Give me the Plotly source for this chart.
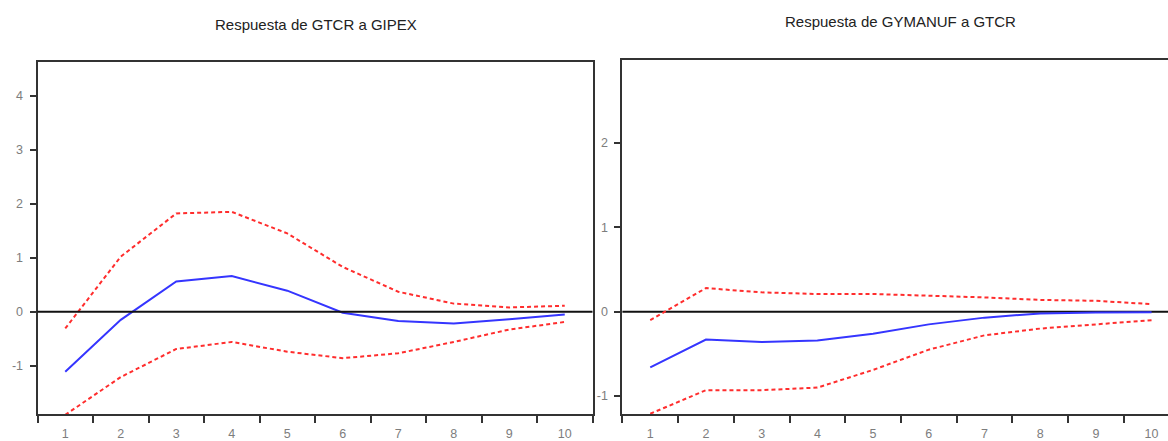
import plotly.graph_objects as go

periods = [1, 2, 3, 4, 5, 6, 7, 8, 9, 10]

# Respuesta de GTCR a GIPEX
gtcr_resp = [-1.11, -0.15, 0.56, 0.66, 0.39, -0.02, -0.17, -0.22, -0.14, -0.05]
gtcr_upper = [-0.31, 1.02, 1.82, 1.85, 1.45, 0.83, 0.37, 0.15, 0.08, 0.11]
gtcr_lower = [-1.91, -1.21, -0.69, -0.56, -0.74, -0.86, -0.77, -0.56, -0.33, -0.19]

# Respuesta de GYMANUF a GTCR
gym_resp = [-0.66, -0.33, -0.36, -0.34, -0.26, -0.15, -0.07, -0.02, -0.01, -0.005]
gym_upper = [-0.10, 0.28, 0.23, 0.21, 0.21, 0.19, 0.17, 0.14, 0.13, 0.09]
gym_lower = [-1.21, -0.93, -0.93, -0.90, -0.69, -0.45, -0.28, -0.20, -0.15, -0.10]

left_yticks = [-1, 0, 1, 2, 3, 4]
right_yticks = [-1, 0, 1, 2]
titles = ["Respuesta de GTCR a GIPEX", "Respuesta de GYMANUF a GTCR"]

W, H = 1168, 441
BLUE = "#3535ff"
RED = "#ff2d2d"
AX = "#333333"
FONT = "Liberation Sans, Arial, sans-serif"
TICKCOL = "#7d7d7d"

fig = go.Figure()

def add_panel(xa, ya, resp, up, lo):
    fig.add_trace(go.Scatter(x=periods, y=up, mode="lines", xaxis=xa, yaxis=ya,
                             line=dict(color=RED, width=2, dash="4px,3px"), showlegend=False))
    fig.add_trace(go.Scatter(x=periods, y=lo, mode="lines", xaxis=xa, yaxis=ya,
                             line=dict(color=RED, width=2, dash="4px,3px"), showlegend=False))
    fig.add_trace(go.Scatter(x=periods, y=resp, mode="lines", xaxis=xa, yaxis=ya,
                             line=dict(color=BLUE, width=2), showlegend=False))

add_panel("x", "y", gtcr_resp, gtcr_upper, gtcr_lower)
add_panel("x2", "y2", gym_resp, gym_upper, gym_lower)

def xaxis_def(domain, rng, anchor):
    return dict(domain=domain, range=rng, anchor=anchor, automargin=False,
                tickvals=periods, ticktext=[str(p) for p in periods],
                ticks="outside", ticklen=7, tickcolor="rgba(0,0,0,0)",
                minor=dict(tick0=0.5, dtick=1, ticks="outside", ticklen=7,
                           tickwidth=2, tickcolor=AX),
                showline=True, linecolor=AX, linewidth=2, mirror=True,
                showgrid=False, zeroline=False,
                tickfont=dict(family=FONT, size=12.5, color=TICKCOL))

def yaxis_def(domain, rng, anchor, ticks, mirror):
    return dict(domain=domain, range=rng, anchor=anchor, automargin=False,
                tickvals=ticks, ticktext=[str(t) for t in ticks],
                ticks="outside", ticklen=6, tickwidth=2, tickcolor=AX,
                ticklabelstandoff=4,
                showline=True, linecolor=AX, linewidth=2, mirror=mirror,
                showgrid=False, zeroline=False,
                tickfont=dict(family=FONT, size=12.5, color=TICKCOL))

ydom_l = [1 - 414 / H, 1 - 61.7 / H]
ydom_r = [1 - 414 / H, 1 - 60.3 / H]

fig.update_layout(
    width=W, height=H,
    margin=dict(l=0, r=0, t=0, b=0, autoexpand=False),
    paper_bgcolor="white", plot_bgcolor="white",
    xaxis=xaxis_def([37.5 / W, 592.5 / W], [0.5, 10.5], "y"),
    yaxis=yaxis_def(ydom_l, [-1.894, 4.63], "x", left_yticks, True),
    xaxis2=xaxis_def([622.4 / W, 1.0], [0.5, 10.295], "y2"),
    yaxis2=yaxis_def(ydom_r, [-1.213, 2.982], "x2", right_yticks, False),
    shapes=[
        dict(type="line", xref="x domain", yref="y", x0=0, x1=1, y0=0, y1=0,
             line=dict(color="#111111", width=2), layer="above"),
        dict(type="line", xref="x2 domain", yref="y2", x0=0, x1=1, y0=0, y1=0,
             line=dict(color="#111111", width=2), layer="below"),
    ],
    annotations=[
        dict(text=titles[0], x=316 / W, y=1 - 25 / H, xref="paper", yref="paper",
             showarrow=False, xanchor="center", yanchor="middle",
             font=dict(family=FONT, size=15, color="#222222")),
        dict(text=titles[1], x=901 / W, y=1 - 22 / H, xref="paper", yref="paper",
             showarrow=False, xanchor="center", yanchor="middle",
             font=dict(family=FONT, size=15, color="#222222")),
    ],
)

fig.write_html("out.html", config={"displayModeBar": False},
               post_script="document.body.style.margin='0';document.body.style.overflow='hidden';")
